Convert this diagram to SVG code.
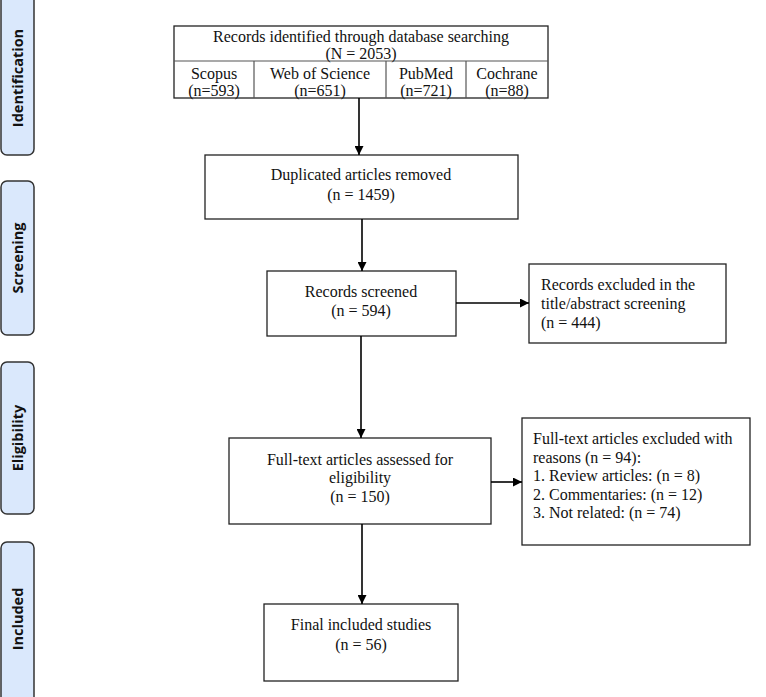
<svg xmlns="http://www.w3.org/2000/svg" width="766" height="697" viewBox="0 0 766 697">
<defs>
<marker id="arr" viewBox="0 0 10 10" refX="10" refY="5" markerWidth="9" markerHeight="9" markerUnits="userSpaceOnUse" orient="auto">
<path d="M0,0 L10,5 L0,10 Z" fill="#000"/>
</marker>
<style>
.tab{fill:#dae8fc;stroke:#333;stroke-width:1.5}
.tabt{font-family:"Open Sans","DejaVu Sans",sans-serif;font-weight:bold;font-size:14.5px;fill:#111;text-anchor:middle}
.box{fill:#fff;stroke:#222;stroke-width:1.3}
.div{stroke:#555;stroke-width:1.2}
.t{font-family:"Liberation Serif","Times New Roman",serif;font-size:16px;fill:#111}
.c{text-anchor:middle}
.conn{stroke:#000;stroke-width:1.6;fill:none;marker-end:url(#arr)}
</style>
</defs>
<rect width="766" height="697" fill="#fff"/>

<g id="tab-identification">
<rect class="tab" x="1" y="-8" width="33" height="163" rx="6"/>
<text class="tabt" transform="translate(23,78) rotate(-90)">Identification</text>
</g>
<g id="tab-screening">
<rect class="tab" x="1" y="181" width="33" height="154" rx="6"/>
<text class="tabt" transform="translate(23,258) rotate(-90)">Screening</text>
</g>
<g id="tab-eligibility">
<rect class="tab" x="1" y="362" width="33" height="152" rx="6"/>
<text class="tabt" transform="translate(23,438) rotate(-90)">Eligibility</text>
</g>
<g id="tab-included">
<rect class="tab" x="1" y="542" width="33" height="163" rx="6"/>
<text class="tabt" transform="translate(23,619) rotate(-90)">Included</text>
</g>

<g id="records-identified">
<rect class="box" x="174" y="26" width="374" height="72"/>
<line class="div" x1="174" y1="61" x2="548" y2="61"/>
<line class="div" x1="254" y1="61" x2="254" y2="98"/>
<line class="div" x1="386" y1="61" x2="386" y2="98"/>
<line class="div" x1="466" y1="61" x2="466" y2="98"/>
<text class="t c" x="361" y="42">Records identified through database searching</text>
<text class="t c" x="361" y="59">(N = 2053)</text>
<text class="t c" x="214" y="79">Scopus</text>
<text class="t c" x="214" y="96">(n=593)</text>
<text class="t c" x="320" y="79">Web of Science</text>
<text class="t c" x="320" y="96">(n=651)</text>
<text class="t c" x="426" y="79">PubMed</text>
<text class="t c" x="426" y="96">(n=721)</text>
<text class="t c" x="507" y="79">Cochrane</text>
<text class="t c" x="507" y="96">(n=88)</text>
</g>

<g id="duplicates-removed">
<rect class="box" x="205" y="155" width="313" height="64"/>
<text class="t c" x="361" y="180">Duplicated articles removed</text>
<text class="t c" x="361" y="200">(n = 1459)</text>
</g>

<g id="records-screened">
<rect class="box" x="267" y="271" width="189" height="65"/>
<text class="t c" x="361" y="297">Records screened</text>
<text class="t c" x="361" y="316">(n = 594)</text>
</g>

<g id="records-excluded">
<rect class="box" x="529" y="264" width="197" height="79"/>
<text class="t" x="541" y="290">Records excluded in the</text>
<text class="t" x="541" y="309">title/abstract screening</text>
<text class="t" x="541" y="328">(n = 444)</text>
</g>

<g id="fulltext-assessed">
<rect class="box" x="229" y="438" width="262" height="86"/>
<text class="t c" x="360" y="465">Full-text articles assessed for</text>
<text class="t c" x="360" y="483">eligibility</text>
<text class="t c" x="360" y="502">(n = 150)</text>
</g>

<g id="fulltext-excluded">
<rect class="box" x="522" y="418" width="228" height="127"/>
<text class="t" x="533" y="444">Full-text articles excluded with</text>
<text class="t" x="533" y="463">reasons (n = 94):</text>
<text class="t" x="533" y="481">1. Review articles: (n = 8)</text>
<text class="t" x="533" y="500">2. Commentaries: (n = 12)</text>
<text class="t" x="533" y="518">3. Not related: (n = 74)</text>
</g>

<g id="final-included">
<rect class="box" x="264" y="604" width="194" height="77"/>
<text class="t c" x="361" y="630">Final included studies</text>
<text class="t c" x="361" y="650">(n = 56)</text>
</g>

<g id="connectors">
<line class="conn" x1="359" y1="98" x2="359" y2="155"/>
<line class="conn" x1="362" y1="219" x2="362" y2="271"/>
<line class="conn" x1="456" y1="303" x2="529" y2="303"/>
<line class="conn" x1="361" y1="336" x2="361" y2="438"/>
<line class="conn" x1="491" y1="482" x2="522" y2="482"/>
<line class="conn" x1="362" y1="524" x2="362" y2="604"/>
</g>
</svg>
